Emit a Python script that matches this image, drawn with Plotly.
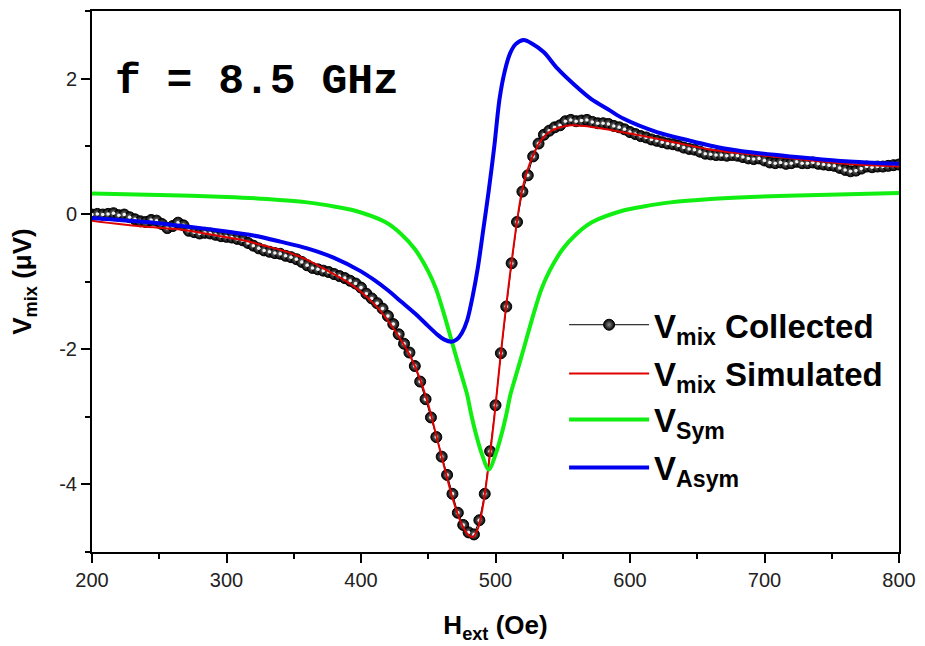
import plotly.graph_objects as go

# ---------------- data ----------------
h_collected = list(range(200, 801, 4))
v_collected = [
    -0.01, 0.00, -0.01, 0.00, 0.01, -0.02, -0.01, -0.05, -0.08, -0.11,
    -0.12, -0.09, -0.10, -0.15, -0.21, -0.18, -0.13, -0.17, -0.25, -0.27,
    -0.29, -0.28, -0.29, -0.31, -0.33, -0.34, -0.35, -0.37, -0.39, -0.43,
    -0.47, -0.51, -0.54, -0.56, -0.58, -0.59, -0.62, -0.64, -0.67, -0.71,
    -0.76, -0.80, -0.82, -0.84, -0.86, -0.89, -0.92, -0.95, -0.99, -1.03,
    -1.09, -1.18, -1.25, -1.32, -1.40, -1.51, -1.63, -1.78, -1.92, -2.05,
    -2.25, -2.48, -2.74, -3.01, -3.30, -3.59, -3.86, -4.14, -4.42, -4.60,
    -4.71, -4.74, -4.53, -4.14, -3.51, -2.83, -2.06, -1.37, -0.73, -0.12,
    0.33, 0.57, 0.85, 1.04, 1.17, 1.23, 1.28, 1.31, 1.37, 1.39,
    1.37, 1.38, 1.39, 1.36, 1.34, 1.34, 1.33, 1.30, 1.28, 1.25,
    1.21, 1.18, 1.15, 1.13, 1.10, 1.08, 1.06, 1.04, 1.03, 1.01,
    0.98, 0.96, 0.95, 0.92, 0.89, 0.88, 0.87, 0.87, 0.86, 0.87,
    0.86, 0.84, 0.82, 0.81, 0.82, 0.79, 0.76, 0.75, 0.76, 0.74,
    0.75, 0.77, 0.75, 0.75, 0.76, 0.74, 0.73, 0.72, 0.71, 0.68,
    0.65, 0.63, 0.64, 0.67, 0.70, 0.69, 0.70, 0.70, 0.71, 0.72,
    0.73,
]
assert len(h_collected) == len(v_collected)

h_sim = [200, 220, 240, 260, 272, 290, 310, 330, 346, 360, 376, 390, 401, 413,
         425, 436, 444, 450, 456, 462, 468, 474, 479, 483, 487, 491, 495, 499,
         503, 507, 511, 515, 519, 523, 528, 534, 540, 548, 556, 566, 580, 605,
         630, 657, 680, 706, 730, 756, 780, 800]
v_sim = [-0.10, -0.15, -0.19, -0.22, -0.25, -0.31, -0.38, -0.48, -0.57, -0.68,
         -0.85, -1.01, -1.17, -1.40, -1.72, -2.08, -2.45, -2.82, -3.28, -3.75,
         -4.20, -4.55, -4.73, -4.78, -4.65, -4.28, -3.70, -3.03, -2.25, -1.52,
         -0.86, -0.25, 0.27, 0.60, 0.87, 1.09, 1.21, 1.28, 1.31, 1.30, 1.26,
         1.17, 1.07, 0.96, 0.90, 0.85, 0.80, 0.75, 0.72, 0.70]

h_sym = [200, 250, 300, 330, 360, 380, 395, 418, 430, 440, 450, 456, 462, 467,
         472, 476, 479, 482, 485, 489, 495, 501, 505, 508, 511, 514, 518, 523,
         528, 534, 540, 550, 560, 572, 595, 610, 630, 660, 690, 740, 800]
v_sym = [0.30, 0.28, 0.25, 0.22, 0.17, 0.11, 0.05, -0.12, -0.30, -0.52,
         -0.85, -1.12, -1.50, -1.85, -2.20, -2.47, -2.68, -2.97, -3.22, -3.50,
         -3.78, -3.50, -3.22, -2.97, -2.68, -2.47, -2.20, -1.85, -1.50, -1.12,
         -0.85, -0.52, -0.30, -0.12, 0.05, 0.11, 0.17, 0.22, 0.25, 0.28, 0.31]

h_asym = [200, 240, 272, 300, 320, 340, 360, 380, 400, 410, 420, 430, 440,
          450, 457, 462, 467, 471, 475, 479, 483, 487, 491, 495, 499, 503, 507,
          511, 515, 521, 527, 536, 546, 558, 571, 585, 595, 620, 645, 669, 690,
          719, 760, 800]
v_asym = [-0.06, -0.12, -0.19, -0.26, -0.32, -0.41, -0.51, -0.65, -0.85, -0.98,
          -1.13, -1.30, -1.47, -1.66, -1.79, -1.86, -1.89, -1.86, -1.76,
          -1.57, -1.22, -0.78, -0.22, 0.35, 0.98, 1.70, 2.12, 2.38, 2.51,
          2.57, 2.52, 2.39, 2.15, 1.92, 1.70, 1.53, 1.41, 1.21, 1.08, 0.97,
          0.91, 0.85, 0.78, 0.74]

x_ticks = [200, 300, 400, 500, 600, 700, 800]
y_ticks = [-4, -2, 0, 2]
y_ticktext = ["-4", "-2", "0", "2"]

# ---------------- figure ----------------
SANS = "Arial, Liberation Sans, sans-serif"
LEG_FONT = dict(family=SANS, size=33, color="black", weight="bold")

fig = go.Figure()
fig.add_trace(go.Scatter(
    x=h_collected, y=v_collected, mode="lines+markers",
    name="V<sub>mix</sub> Collected",
    line=dict(color="black", width=1),
    marker=dict(size=11, color="black", symbol="circle",
                gradient=dict(type="radial", color="#8a8a8a"),
                line=dict(width=1, color="black")),
    legend="legend",
))
# specular highlight of the spheres (same points, not in legend)
fig.add_trace(go.Scatter(
    x=h_collected, y=v_collected, mode="markers", showlegend=False,
    hoverinfo="skip",
    marker=dict(size=3.5, color="#f2f2f2", line=dict(width=0)),
))
fig.add_trace(go.Scatter(
    x=h_sim, y=v_sim, mode="lines", name="V<sub>mix</sub> Simulated",
    line=dict(color="#e00000", width=2, shape="spline", smoothing=0.8),
    legend="legend2",
))
fig.add_trace(go.Scatter(
    x=h_sym, y=v_sym, mode="lines", name="V<sub>Sym</sub>",
    line=dict(color="#11ee11", width=4, shape="spline", smoothing=0.8),
    legend="legend3",
))
fig.add_trace(go.Scatter(
    x=h_asym, y=v_asym, mode="lines", name="V<sub>Asym</sub>",
    line=dict(color="#0000ee", width=4, shape="spline", smoothing=0.8),
    legend="legend4",
))

def leg(y):
    return dict(x=0.585, y=y, xanchor="left", yanchor="middle",
                font=LEG_FONT, bgcolor="rgba(0,0,0,0)", itemwidth=80,
                borderwidth=0, tracegroupgap=0)

axis_common = dict(
    showline=True, linecolor="black", linewidth=2, mirror=True,
    ticks="outside", ticklen=9, tickwidth=2, tickcolor="black",
    showgrid=False, zeroline=False,
    tickfont=dict(family=SANS, size=20, color="#222"),
)

fig.update_layout(
    width=925, height=646,
    margin=dict(l=92, r=21, t=9, b=94),
    paper_bgcolor="white", plot_bgcolor="white",
    showlegend=True,
    legend=leg(0.420),
    legend2=leg(0.330),
    legend3=leg(0.245),
    legend4=leg(0.156),
    xaxis=dict(
        range=[200, 800], tickvals=x_ticks,
        minor=dict(dtick=50, ticklen=5, tickwidth=2, tickcolor="black", ticks="outside"),
        title=dict(text="<b>H<sub>ext</sub> (Oe)</b>", standoff=26,
                   font=dict(family=SANS, size=26, color="black")),
        **axis_common,
    ),
    yaxis=dict(
        range=[-5, 3], tickvals=y_ticks, ticktext=y_ticktext,
        minor=dict(dtick=1, ticklen=5, tickwidth=2, tickcolor="black", ticks="outside"),
        title=dict(text="<b>V<sub>mix</sub> (μV)</b>", standoff=20,
                   font=dict(family=SANS, size=26, color="black")),
        **axis_common,
    ),
    annotations=[dict(
        text="<b>f = 8.5 GHz</b>", xref="paper", yref="paper",
        x=0.026, y=0.870, xanchor="left", yanchor="middle", showarrow=False,
        font=dict(family="Courier New, Liberation Mono, monospace", size=43, color="black"),
    )],
)

fig.write_html("out.html")
